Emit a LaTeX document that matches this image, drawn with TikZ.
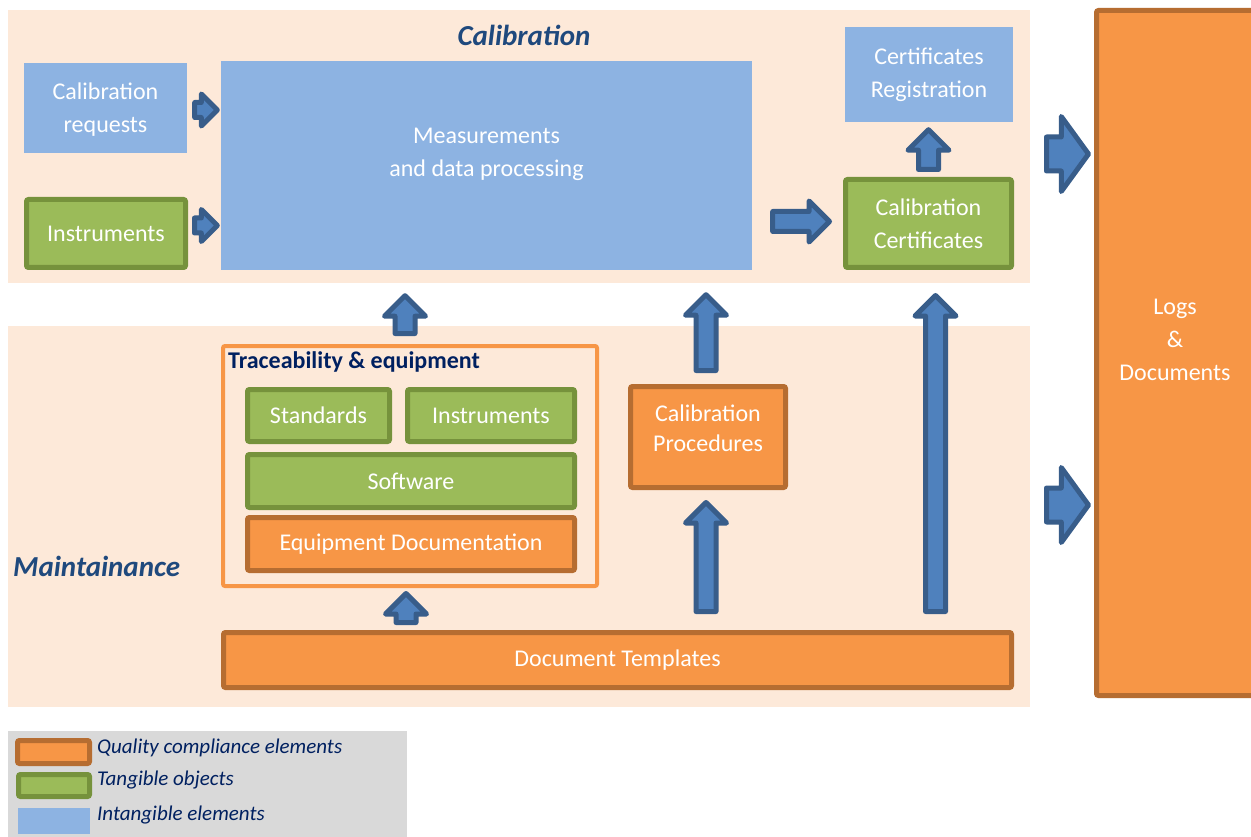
\documentclass[tikz,border=0pt]{standalone}
\usepackage{fontspec}
\setmainfont{Carlito}
\usepackage{xcolor}
\usepackage{tikz}
\usetikzlibrary{positioning,calc,shapes.arrows}

\definecolor{peach}{HTML}{FDE9D9}
\definecolor{bluefill}{HTML}{8DB3E2}
\definecolor{greenfill}{HTML}{9BBB59}
\definecolor{greenline}{HTML}{76923C}
\definecolor{orangefill}{HTML}{F79646}
\definecolor{orangeline}{HTML}{B66D31}
\definecolor{arrowfill}{HTML}{4F81BD}
\definecolor{arrowline}{HTML}{385D8A}
\definecolor{titleblue}{HTML}{1F497D}
\definecolor{navy}{HTML}{002060}
\definecolor{legendgrey}{HTML}{D9D9D9}

\tikzset{
	area/.style={fill=#1, inner sep=0pt, outer sep=0pt},
	bluebox/.style={fill=bluefill, inner sep=0pt, text=white, align=center, font=\fontsize{24}{33}\selectfont},
	greenbox/.style={bluebox, fill=greenfill, draw=greenline, line width=5, rounded corners=2},
	orangebox/.style={bluebox, fill=orangefill, draw=orangeline, line width=5, rounded corners=2},
	boxtext/.style={text=white, align=center, font=\fontsize{24}{33}\selectfont},
	title/.style={text=titleblue, font=\fontsize{29}{33}\selectfont\bfseries\itshape},
	legendtext/.style={text=navy, anchor=west, inner sep=0pt, font=\fontsize{21}{25}\selectfont\itshape},
	barr/.style={single arrow, draw=arrowline, fill=arrowfill, line width=5, line join=round, inner xsep=0pt,
		text height=0pt, text depth=0pt, text width=0pt, outer sep=0pt, single arrow tip angle=90, anchor=tail},
	barrsmall/.style={barr, inner ysep=5, single arrow head extend=8.5, minimum width=27},
	barrmid/.style={barr, inner ysep=7.5, single arrow head extend=10.5, minimum width=36},
	barrbig/.style={barr, inner ysep=14.5, single arrow head extend=20.5, minimum width=70, single arrow tip angle=108}
}

% block arrow from tail #2 to tip #3
\newcommand{\blockarrow}[3]{%
	\path let \p1=#2, \p2=#3, \n1={veclen(\x2-\x1,\y2-\y1)}, \n2={atan2(\y2-\y1,\x2-\x1)} in
		node[#1, minimum height=\n1-5pt, rotate=\n2] at ($(\p1)!2.5pt!(\p2)$) {};}

\begin{document}
\begin{tikzpicture}[x=1pt,y=-1pt]
	\useasboundingbox[fill=white] (0,0) rectangle (1251,837);
	%
	\node[area=peach, minimum width=1022, minimum height=273] (calbg) at (519,146.5) {};
	\node[area=peach, minimum width=1022, minimum height=381] (maintbg) at (519,516.5) {};
	\node[area=legendgrey, minimum width=399, minimum height=106] (legbg) at (207.5,784) {};
	\node[title] (caltitle) at (524,35) {Calibration};
	\node[title, anchor=west, inner sep=0pt] (mainttitle) at (13,566) {Maintainance};
	%
	\node[bluebox, minimum width=163, minimum height=90] (req) at (105.5,108) {};
	\node[boxtext] (reqlabel) at ($(req.center)+(0,2)$) {Calibration\\requests};
	\node[greenbox, minimum width=159, minimum height=68] (instr) at (106,233.5) {Instruments};
	\node[bluebox, minimum width=531, minimum height=209] (meas) at (486.5,165.5) {};
	\node[boxtext] (measlabel) at ($(meas.center)+(0,-11)$) {Measurements\\and data processing};
	\node[bluebox, minimum width=168, minimum height=95] (reg) at (929,74.5) {Certificates\\Registration};
	\node[greenbox, minimum width=166, minimum height=88] (cert) at (928.5,223.5) {Calibration\\Certificates};
	\node[orangebox, minimum width=157, minimum height=685] (logs) at (1175,353) {};
	\node[boxtext] (logslabel) at ($(logs.center)+(0,-13)$) {Logs\\\&\\Documents};
	%
	\node[draw=orangefill, line width=4, minimum width=374, minimum height=240, rounded corners=2] (trace) at (410,466) {};
	\node[anchor=west, inner sep=0pt, text=navy, font=\fontsize{24}{28}\selectfont\bfseries] (tracetitle) at (228,362) {Traceability \& equipment};
	\node[greenbox, minimum width=142, minimum height=52] (std) at (318.5,415.5) {Standards};
	\node[greenbox, minimum width=167, minimum height=52] (instr2) at (491,415.5) {Instruments};
	\node[greenbox, minimum width=327, minimum height=53] (soft) at (411,481) {Software};
	\node[orangebox, minimum width=327, minimum height=53] (eqdoc) at (411,544) {Equipment Documentation};
	\node[orangebox, minimum width=155, minimum height=101] (proc) at (708,437) {};
	\node[boxtext, font=\fontsize{24}{30}\selectfont] (proclabel) at ($(proc.center)+(0,-9)$) {Calibration\\Procedures};
	\node[orangebox, minimum width=788, minimum height=55] (templ) at (617.5,660) {Document Templates};
	%
	\blockarrow{barrsmall}{($(req.east)+(5,2)$)}{($(meas.west|-req.east)+(-1,2)$)}
	\blockarrow{barrsmall}{($(instr.east)+(4,-8)$)}{($(meas.west|-instr.east)+(-1,-8)$)}
	\blockarrow{barrmid}{($(meas.east)+(18,56)$)}{($(cert.west|-meas.east)+(-11,56)$)}
	\blockarrow{barrmid}{($(cert.north)+(0,-5)$)}{($(cert.north|-reg.south)+(0,5)$)}
	\blockarrow{barrmid}{($(trace.north)+(-5,-8)$)}{($(trace.north|-meas.south)+(-5,23)$)}
	\blockarrow{barrmid}{($(proc.north)+(-2,-11)$)}{($(proc.north|-meas.south)+(-2,22)$)}
	\blockarrow{barrmid}{($(templ.north-|proc.south)+(-2,-16)$)}{($(proc.south)+(-2,10)$)}
	\blockarrow{barrmid}{($(templ.north-|cert.south)+(7,-16)$)}{($(cert.south)+(7,23)$)}
	\blockarrow{barrmid}{($(templ.north-|trace.south)+(-4,-5)$)}{($(trace.south)+(-4,3)$)}
	\blockarrow{barrbig}{($(calbg.east)+(14,7.5)$)}{($(logs.west|-calbg.east)+(-3,7.5)$)}
	\blockarrow{barrbig}{($(maintbg.east)+(14,-11.5)$)}{($(logs.west|-maintbg.east)+(-3,-11.5)$)}
	%
	\node[orangebox, minimum width=72, minimum height=23] (legq) at (53.5,752) {};
	\node[greenbox, minimum width=71, minimum height=22] (legt) at (54,785.5) {};
	\node[bluebox, minimum width=72, minimum height=26] (legi) at (54,821) {};
	\node[legendtext] at (97,748) {Quality compliance elements};
	\node[legendtext] at (97,780) {Tangible objects};
	\node[legendtext] at (97,815) {Intangible elements};
\end{tikzpicture}
\end{document}
